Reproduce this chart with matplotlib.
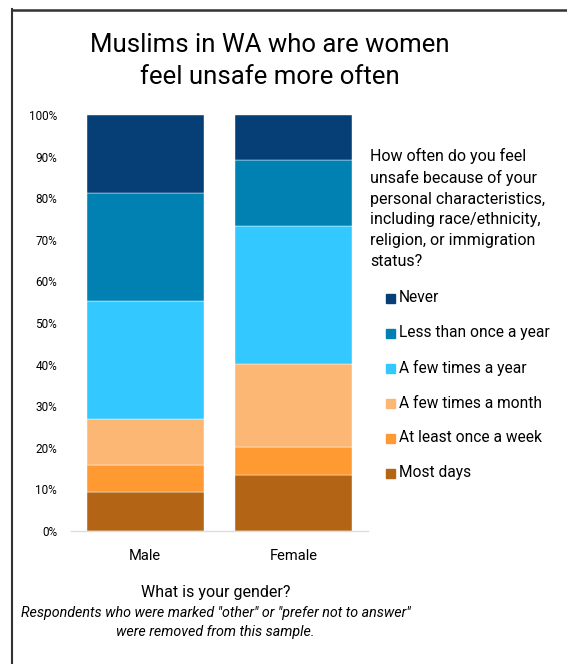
import matplotlib
matplotlib.use("Agg")
import matplotlib.pyplot as plt
from matplotlib.lines import Line2D
from matplotlib.patches import Rectangle
import numpy as np

plt.rcParams['font.family'] = ['Roboto', 'DejaVu Sans']

genders = ["Male", "Female"]
categories = ["Most days", "At least once a week", "A few times a month",
              "A few times a year", "Less than once a year", "Never"]
male = [9.4, 6.4, 11.2, 28.3, 26.0, 18.7]
female = [13.4, 6.8, 20.0, 33.0, 16.1, 10.7]
colors = ["#B36414", "#FF9A33", "#FDB775", "#33C8FF", "#0081B2", "#053F75"]
yticks = [0, 10, 20, 30, 40, 50, 60, 70, 80, 90, 100]

fig = plt.figure(figsize=(5.67, 6.64), dpi=100)
ax = fig.add_axes([71/567, 1-531/664, (368-71)/567, (531-115)/664])

data = np.array([male, female])
x = np.arange(len(genders))
bottom = np.zeros(len(genders))
for i, cat in enumerate(categories):
    ax.bar(x, data[:, i], bottom=bottom, width=0.79, color=colors[i],
           edgecolor='white', linewidth=0.3, label=cat, zorder=2)
    bottom += data[:, i]

ax.set_xlim(-0.5, 1.5)
ax.set_ylim(0, 100)
ax.set_yticks(yticks)
ax.set_yticklabels([f"{t}%" for t in yticks], fontsize=8.5)
ax.set_xticks(x)
ax.set_xticklabels(genders, fontsize=10.5)
ax.tick_params(axis='both', length=0)
ax.tick_params(axis='y', pad=10)
ax.tick_params(axis='x', pad=13)
for s in ["top", "right", "left"]:
    ax.spines[s].set_visible(False)
ax.spines["bottom"].set_color("#dddddd")
ax.spines["bottom"].set_linewidth(1)

# Title
fig.text(270/567, 1-45/664, "Muslims in WA who are women", ha='center', va='center', fontsize=18.5)
fig.text(270/567, 1-77/664, "feel unsafe more often", ha='center', va='center', fontsize=18.5)

# Legend title
fig.text(370/567, 1-148/664,
         "How often do you feel\nunsafe because of your\npersonal characteristics,\nincluding race/ethnicity,\nreligion, or immigration\nstatus?",
         ha='left', va='top', fontsize=11.5, linespacing=1.47)

# Legend entries (top = Never)
leg_y0 = 298
for j, (cat, col) in enumerate(zip(categories[::-1], colors[::-1])):
    yc = 1 - (leg_y0 + 35*j)/664
    fig.add_artist(Rectangle((386/567, yc - 4.5/664), 9/567, 9/664,
                             transform=fig.transFigure, color=col))
    fig.text(399/567, yc, cat, ha='left', va='center', fontsize=11.2)

# Axis title and note
fig.text(216/567, 1-592/664, "What is your gender?", ha='center', va='center', fontsize=11.5)
fig.text(215.5/567, 1-613/664, 'Respondents who were marked "other" or "prefer not to answer"',
         ha='center', va='center', fontsize=10.3, style='italic')
fig.text(215/567, 1-632/664, "were removed from this sample.",
         ha='center', va='center', fontsize=10.3, style='italic')

# Frame lines
fig.add_artist(Line2D([12/567, 12/567], [0, 1-9/664], transform=fig.transFigure,
                      color="#333333", linewidth=1.5))
fig.add_artist(Line2D([12/567, 1], [1-9.5/664, 1-9.5/664], transform=fig.transFigure,
                      color="#333333", linewidth=1.8))

fig.savefig("out.png", dpi=100)
